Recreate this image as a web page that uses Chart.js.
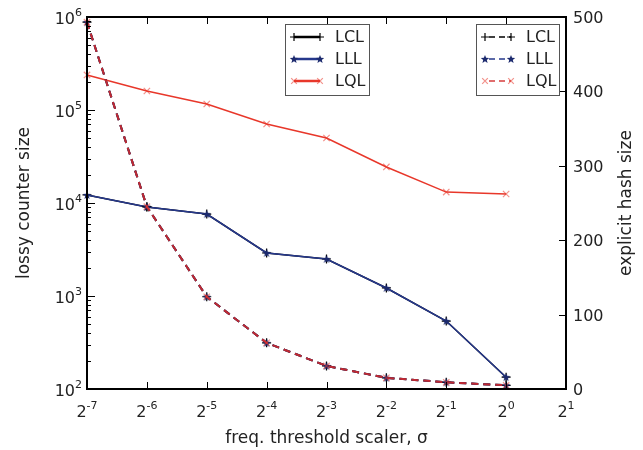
<!DOCTYPE html>
<html>
<head>
<meta charset="utf-8">
<script src="https://cdn.jsdelivr.net/npm/chart.js@4/dist/chart.umd.min.js"></script>
<style>
  html, body { margin: 0; padding: 0; background: #fff; }
  #wrap { width: 643px; height: 450px; }
</style>
</head>
<body>
<div id="wrap"><canvas id="myChart" width="643" height="450"></canvas></div>
<script>
// sigma = 2^exp
const exponents = [-7, -6, -5, -4, -3, -2, -1, 0];

// lossy counter size (left, log axis)
const lclCounter = [12200, 9060, 7600, 2900, 2500, 1220, 538, 134];
const lllCounter = [12200, 9060, 7600, 2900, 2500, 1220, 538, 134];
const lqlCounter = [238000, 160000, 116000, 70700, 50000, 24400, 13100, 12500];

// explicit hash size (right, linear axis)
const lclHash = [493, 245, 124, 62, 31, 15, 9, 5];
const lllHash = [493, 245, 124, 62, 31, 15, 9, 5];
const lqlHash = [493, 245, 124, 62, 31, 15, 9, 5];

const xTickExps = [-7, -6, -5, -4, -3, -2, -1, 0, 1];
const leftDecades = [2, 3, 4, 5, 6];
const rightTicks = [0, 100, 200, 300, 400, 500];

const FONT = '"DejaVu Sans", sans-serif';
const TXT = '#222';
const BLACK = '#000000';
const NAVY = '#26388c';
const RED = '#e8372a';
const RED_MK = 'rgba(232,55,42,0.55)';

// filled five-point star marker
function starImage(color) {
  const c = document.createElement('canvas');
  c.width = 10; c.height = 10;
  const g = c.getContext('2d');
  g.fillStyle = color;
  g.beginPath();
  for (let i = 0; i < 10; i++) {
    const r = i % 2 === 0 ? 4.4 : 1.9;
    const ang = -Math.PI / 2 + i * Math.PI / 5;
    const px = 5 + r * Math.cos(ang), py = 5.4 + r * Math.sin(ang);
    if (i === 0) g.moveTo(px, py); else g.lineTo(px, py);
  }
  g.closePath();
  g.fill();
  return c;
}
const STAR = starImage('#1c2a6e');

function pts(vals) {
  return vals.map((v, i) => ({ x: exponents[i], y: v }));
}

function ds(label, vals, axis, color, mk, dashed, order) {
  return {
    label: label,
    data: pts(vals),
    yAxisID: axis,
    borderColor: color,
    backgroundColor: color,
    pointBorderColor: mk === 'crossRot' ? RED_MK : color,
    pointBackgroundColor: color,
    pointStyle: mk === 'star' ? STAR : mk,
    pointRadius: 4.5,
    pointBorderWidth: 1.2,
    borderWidth: dashed ? 2 : 1.5,
    borderDash: dashed ? [7, 5] : [],
    tension: 0,
    clip: false,
    order: order
  };
}

const datasets = [
  ds('LCL', lclCounter, 'y', BLACK, 'cross', false, 6),
  ds('LLL', lllCounter, 'y', NAVY, 'star', false, 5),
  ds('LQL', lqlCounter, 'y', RED, 'crossRot', false, 4),
  ds('LCL', lclHash, 'y2', BLACK, 'cross', true, 3),
  ds('LLL', lllHash, 'y2', NAVY, 'star', true, 2),
  ds('LQL', lqlHash, 'y2', 'rgba(210,40,40,0.9)', 'crossRot', true, 1)
];

function powLabel(ctx, base, exp, x, y, align) {
  ctx.font = '16px ' + FONT;
  const bw = ctx.measureText(base).width;
  ctx.font = '11px ' + FONT;
  const ew = ctx.measureText(exp).width;
  let left = x;
  if (align === 'center') left = x - (bw + ew) / 2;
  if (align === 'right') left = x - bw - ew;
  ctx.textAlign = 'left';
  ctx.textBaseline = 'alphabetic';
  ctx.font = '16px ' + FONT;
  ctx.fillText(base, left, y);
  ctx.font = '11px ' + FONT;
  ctx.fillText(exp, left + bw, y - 8);
}

function legendBox(chart, x0, y0, w, h, items, dashed) {
  const ctx = chart.ctx;
  ctx.save();
  ctx.fillStyle = '#fff';
  ctx.fillRect(x0, y0, w, h);
  ctx.strokeStyle = '#555';
  ctx.lineWidth = 1;
  ctx.strokeRect(x0 + 0.5, y0 + 0.5, w, h);
  items.forEach((d, i) => {
    const y = y0 + 13 + i * 22;
    const xa = x0 + 9, xb = x0 + 35;
    ctx.save();
    ctx.strokeStyle = d.borderColor;
    ctx.lineWidth = dashed ? 1.5 : 2.5;
    if (dashed) ctx.setLineDash([6, 4]);
    ctx.beginPath();
    ctx.moveTo(dashed ? xa + 4 : xa, y);
    ctx.lineTo(xb, y);
    ctx.stroke();
    ctx.restore();
    const opt = { pointStyle: d.pointStyle, radius: 4, rotation: 0, borderWidth: 1.2 };
    [xa, xb].forEach(px => {
      ctx.save();
      ctx.strokeStyle = d.pointBorderColor;
      ctx.fillStyle = d.pointBackgroundColor;
      ctx.lineWidth = 1.2;
      Chart.helpers.drawPoint(ctx, opt, px, y);
      ctx.restore();
    });
    ctx.fillStyle = TXT;
    ctx.font = '16px ' + FONT;
    ctx.textAlign = 'left';
    ctx.textBaseline = 'middle';
    ctx.fillText(d.label, x0 + 50, y + 1);
  });
  ctx.restore();
}

const axesPlugin = {
  id: 'axesPlugin',
  afterDraw(chart) {
    const ctx = chart.ctx;
    const a = chart.chartArea;
    const sx = chart.scales.x, sy = chart.scales.y, sy2 = chart.scales.y2;
    ctx.save();
    ctx.strokeStyle = '#000';
    ctx.lineWidth = 1;
    // x ticks top and bottom
    xTickExps.forEach(e => {
      const px = Math.round(sx.getPixelForValue(e)) + 0.5;
      ctx.beginPath();
      ctx.moveTo(px, a.bottom); ctx.lineTo(px, a.bottom - 7);
      ctx.moveTo(px, a.top); ctx.lineTo(px, a.top + 7);
      ctx.stroke();
    });
    // left log ticks
    leftDecades.forEach(d => {
      const py = Math.round(sy.getPixelForValue(Math.pow(10, d))) + 0.5;
      ctx.beginPath();
      ctx.moveTo(a.left, py); ctx.lineTo(a.left + 8, py);
      ctx.stroke();
      if (d < 6) {
        for (let m = 2; m <= 9; m++) {
          const pm = Math.round(sy.getPixelForValue(m * Math.pow(10, d))) + 0.5;
          ctx.beginPath();
          ctx.moveTo(a.left, pm); ctx.lineTo(a.left + 4, pm);
          ctx.stroke();
        }
      }
    });
    // right ticks
    rightTicks.forEach(v => {
      const py = Math.round(sy2.getPixelForValue(v)) + 0.5;
      ctx.beginPath();
      ctx.moveTo(a.right, py); ctx.lineTo(a.right - 7, py);
      ctx.stroke();
    });
    // frame
    ctx.lineWidth = 2;
    ctx.strokeRect(a.left, a.top, a.right - a.left, a.bottom - a.top);

    // tick labels
    ctx.fillStyle = TXT;
    xTickExps.forEach(e => {
      powLabel(ctx, '2', String(e), sx.getPixelForValue(e), a.bottom + 28, 'center');
    });
    leftDecades.forEach(d => {
      powLabel(ctx, '10', String(d), a.left - 5, sy.getPixelForValue(Math.pow(10, d)) + 7, 'right');
    });
    ctx.font = '16px ' + FONT;
    ctx.textAlign = 'left';
    ctx.textBaseline = 'alphabetic';
    rightTicks.forEach(v => {
      ctx.fillText(String(v), a.right + 7, sy2.getPixelForValue(v) + 6);
    });

    // axis titles
    ctx.font = '17px ' + FONT;
    ctx.textAlign = 'center';
    ctx.textBaseline = 'alphabetic';
    ctx.fillText('freq. threshold scaler, \u03c3', (a.left + a.right) / 2, 443);
    ctx.textBaseline = 'middle';
    ctx.save();
    ctx.translate(25, (a.top + a.bottom) / 2);
    ctx.rotate(-Math.PI / 2);
    ctx.fillText('lossy counter size', 0, 0);
    ctx.restore();
    ctx.save();
    ctx.translate(627, (a.top + a.bottom) / 2);
    ctx.rotate(-Math.PI / 2);
    ctx.fillText('explicit hash size', 0, 0);
    ctx.restore();
    ctx.restore();

    // legends
    const ds = chart.data.datasets;
    legendBox(chart, 285, 24, 84, 71, ds.slice(0, 3), false);
    legendBox(chart, 476, 24, 83, 71, ds.slice(3, 6), true);
  }
};

const ctx = document.getElementById('myChart').getContext('2d');
const myChart = new Chart(ctx, {
  type: 'line',
  data: { datasets: datasets },
  options: {
    responsive: false,
    animation: false,
    layout: { padding: { left: 87, right: 77, top: 17, bottom: 61 } },
    plugins: { legend: { display: false }, tooltip: { enabled: false } },
    scales: {
      x: { type: 'linear', min: -7, max: 1, display: false },
      y: { type: 'logarithmic', min: 100, max: 1000000, display: false },
      y2: { type: 'linear', min: 0, max: 500, display: false, position: 'right' }
    }
  },
  plugins: [axesPlugin]
});
</script>
</body>
</html>
